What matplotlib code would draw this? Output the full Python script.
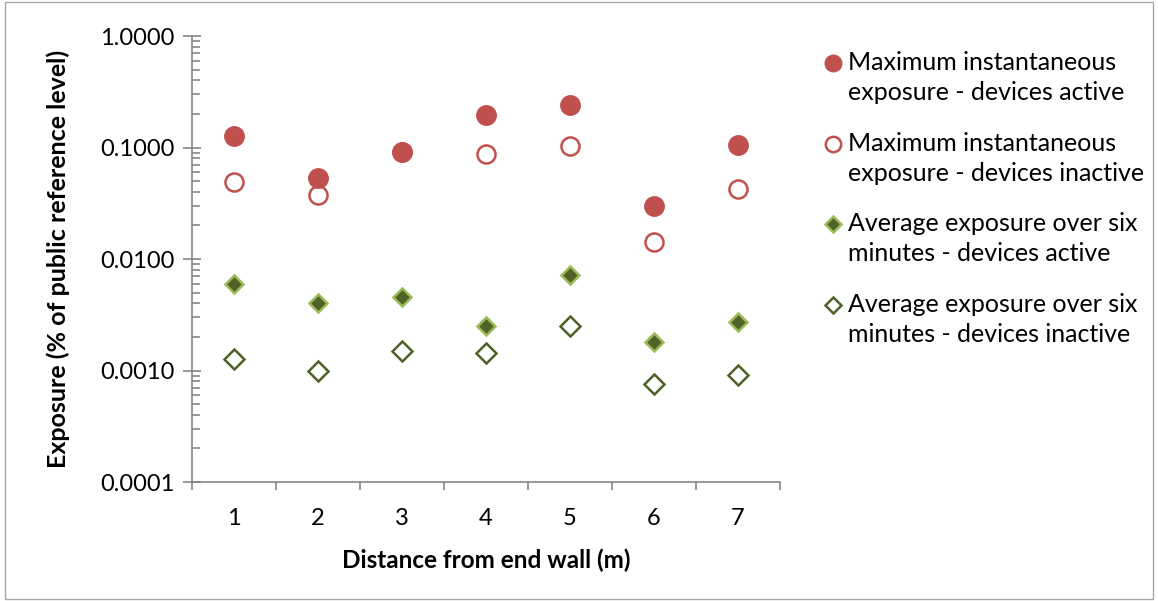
import numpy as np
import matplotlib.pyplot as plt
from matplotlib.lines import Line2D
from matplotlib.ticker import LogLocator, FixedLocator, NullFormatter

plt.rcParams['font.family'] = ['Lato', 'DejaVu Sans']

distance = [1, 2, 3, 4, 5, 6, 7]
max_active = [0.127, 0.053, 0.091, 0.195, 0.24, 0.030, 0.105]
max_inactive = [0.049, 0.0375, 0.091, 0.0875, 0.103, 0.0142, 0.0425]
avg_active = [0.0060, 0.0040, 0.0046, 0.0025, 0.0072, 0.0018, 0.0027]
avg_inactive = [0.00127, 0.00100, 0.00150, 0.00144, 0.0025, 0.00076, 0.00091]

labels = [["Maximum instantaneous", "exposure - devices active"],
          ["Maximum instantaneous", "exposure - devices inactive"],
          ["Average exposure over six", "minutes - devices active"],
          ["Average exposure over six", "minutes - devices inactive"]]

red = "#C0504D"
dkgreen = "#4F6228"
ltgreen = "#9BBB59"
grey = "#868686"

W, H = 1158, 601
fig = plt.figure(figsize=(W / 100, H / 100), dpi=100)
ax = fig.add_axes([0.1658, 0.198, 0.5078, 0.742])

styles = [dict(marker='o', ms=14, mfc=red, mec=red),
          dict(marker='o', ms=13, mfc='white', mec=red, mew=1.8),
          dict(marker='D', ms=9.5, mfc=dkgreen, mec=ltgreen, mew=1.8),
          dict(marker='D', ms=10, mfc='white', mec=dkgreen, mew=1.8)]

ax.plot(distance, max_inactive, ls='none', **styles[1])
ax.plot(distance, max_active, ls='none', **styles[0])
ax.plot(distance, avg_active, ls='none', **styles[2])
ax.plot(distance, avg_inactive, ls='none', **styles[3])

ax.set_yscale('log')
ax.set_ylim(0.0001, 1)
ax.set_xlim(0.5, 7.5)
ax.set_yticks([0.0001, 0.001, 0.01, 0.1, 1])
ax.set_yticklabels(["0.0001", "0.0010", "0.0100", "0.1000", "1.0000"])
ax.yaxis.set_minor_locator(LogLocator(base=10, subs=np.arange(2, 10), numticks=20))
ax.yaxis.set_minor_formatter(NullFormatter())

ax.set_xticks(distance)
ax.set_xticklabels([str(d) for d in distance])
ax.xaxis.set_minor_locator(FixedLocator(np.arange(0.5, 8, 1)))
ax.tick_params(axis='x', which='major', length=0, labelsize=17, pad=19)
ax.tick_params(axis='x', which='minor', length=6, direction='out', color=grey, width=1.2)
ax.tick_params(axis='y', which='major', length=13, direction='inout', color=grey, width=1.2, labelsize=17, pad=6)
ax.tick_params(axis='y', which='minor', length=6, direction='in', color=grey, width=1.2)

for s in ['top', 'right']:
    ax.spines[s].set_visible(False)
for s in ['left', 'bottom']:
    ax.spines[s].set_color(grey)
    ax.spines[s].set_linewidth(1.2)

ax.set_xlabel("Distance from end wall (m)", fontsize=17.5, fontweight='bold', labelpad=14)
ax.set_ylabel("Exposure (% of public reference level)", fontsize=18, fontweight='bold', labelpad=22)

# legend drawn by hand: marker lines up with the first text line, like Excel does
for i, (lab, st) in enumerate(zip(labels, styles)):
    base = 70 + 80.7 * i
    st = dict(st)
    st['ms'] = st['ms'] * 0.85
    fig.add_artist(Line2D([833 / W], [1 - (base - 7) / H], transform=fig.transFigure, ls='none', **st))
    for j, line in enumerate(lab):
        fig.text(848 / W, 1 - (base + 30 * j) / H, line, fontsize=18, va='baseline', ha='left')

border = plt.Rectangle((0.004, 0.004), 0.992, 0.992, transform=fig.transFigure,
                       fill=False, edgecolor='#A6A6A6', linewidth=1)
fig.patches.append(border)

fig.savefig("out.png", dpi=100)
